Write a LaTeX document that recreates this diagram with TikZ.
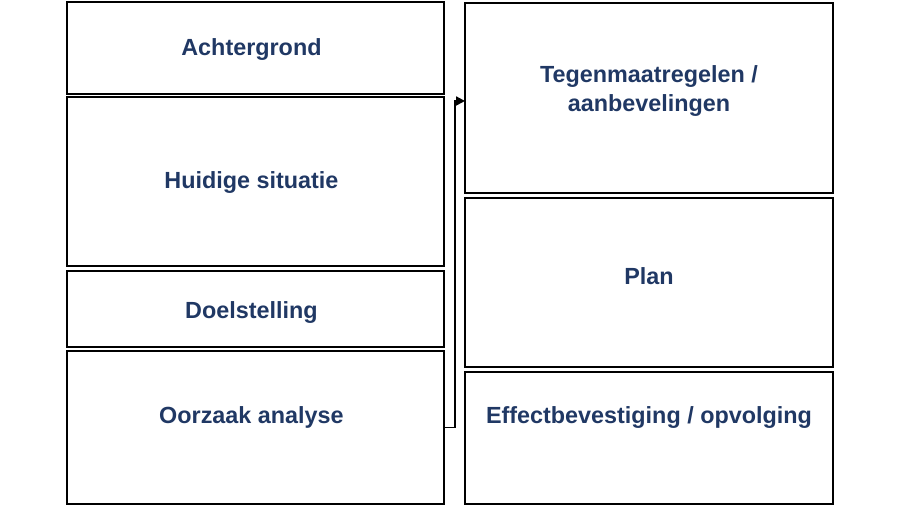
\documentclass[tikz,border=0pt]{standalone}
\usepackage{fontspec}
\setmainfont{Liberation Sans}
\usepackage{xcolor}
\usetikzlibrary{arrows.meta, positioning}
\definecolor{navy}{HTML}{203864}
\begin{document}
\begin{tikzpicture}[
	x=0.02cm, y=-0.02cm,
	box/.style={rectangle, draw, line width=1.1pt, anchor=north west, inner sep=0pt, outer sep=0pt},
	leftbox/.style={box, minimum width=7.54cm},
	rightbox/.style={box, minimum width=7.36cm},
	txt/.style={text=navy, font=\fontsize{13.3}{16}\selectfont\bfseries, align=center},
	lefttxt/.style={txt, xshift=-0.08cm},
	arrow/.style={-{Triangle[length=5pt,width=5pt]}, line width=1.1pt}
	]
	\useasboundingbox (0,0) rectangle (900,506);
	
	% Nodes
	\node (achter) [leftbox, minimum height=1.84cm, label={[lefttxt, yshift=-0.04cm]center:Achtergrond}] at (67,2) {};
	\node (huidig) [leftbox, minimum height=3.38cm, label={[lefttxt, yshift=-0.02cm]center:Huidige situatie}] at (67,97) {};
	\node (doel) [leftbox, minimum height=1.52cm, label={[lefttxt, yshift=-0.08cm]center:Doelstelling}] at (67,271) {};
	\node (oorzaak) [leftbox, minimum height=3.06cm, label={[lefttxt, yshift=0.21cm]center:Oorzaak analyse}] at (67,351) {};
	\node (tegen) [rightbox, minimum height=3.8cm, label={[txt, yshift=0.14cm]center:{Tegenmaatregelen /\\aanbevelingen}}] at (465,3) {};
	\node (plan) [rightbox, minimum height=3.38cm, label={[txt, yshift=0.13cm]center:Plan}] at (465,198) {};
	\node (effect) [rightbox, minimum height=2.64cm, label={[txt, yshift=0.40cm]center:Effectbevestiging / opvolging}] at (465,372) {};
	
	% Arrows
	\draw[arrow] (oorzaak.east) -- ++(11,0) |- ([yshift=-0.06cm]tegen.west);
	
\end{tikzpicture}
\end{document}
